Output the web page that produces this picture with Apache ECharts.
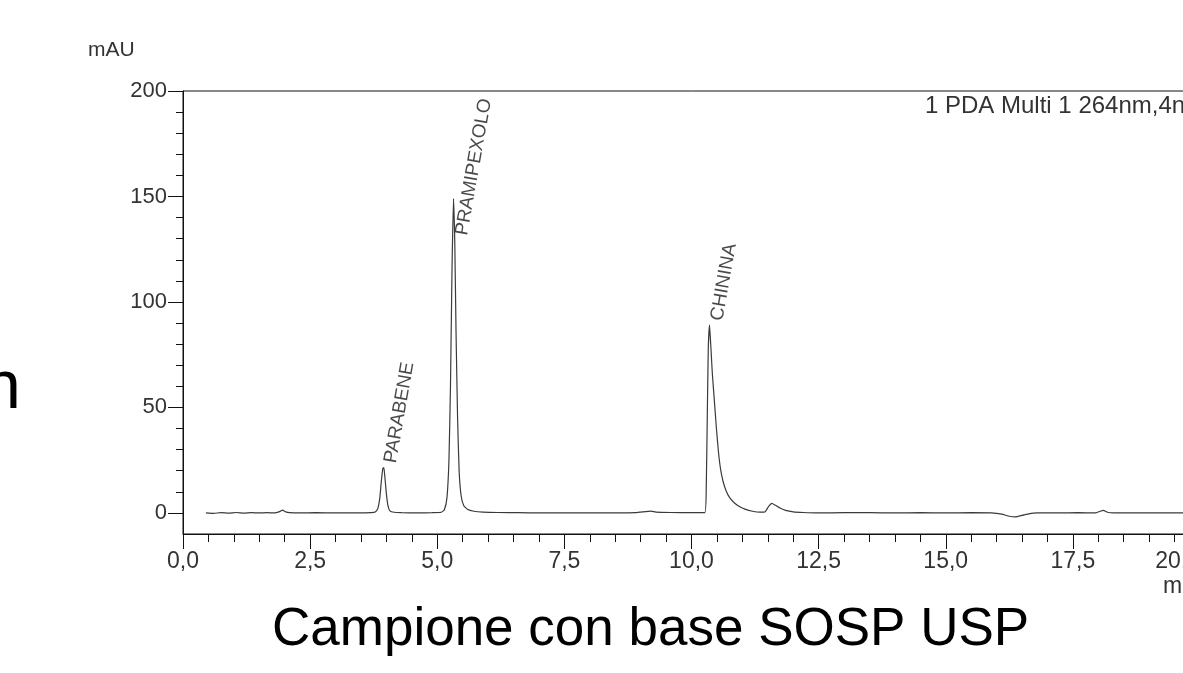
<!DOCTYPE html>
<html>
<head>
<meta charset="utf-8">
<title>Cromatogramma</title>
<script src="https://cdn.jsdelivr.net/npm/echarts@6/dist/echarts.min.js"></script>
<style>
  html, body { margin: 0; padding: 0; background: #fff; overflow: hidden; }
  /* il grafico originale è tagliato a destra: il div è più largo della finestra */
  #chart { width: 1217px; height: 673px; }
</style>
</head>
<body>
<div id="chart"></div>
<script>
// tempo di ritenzione (min) e segnale (mAU)
var retentionTimes = [0.45, 0.6, 0.75, 0.9, 1.05, 1.2, 1.35, 1.5, 1.65, 1.8, 1.9, 1.96, 2.02, 2.1, 2.3, 2.6, 3.0, 3.4, 3.7,
  3.78, 3.83, 3.87, 3.90, 3.93, 3.95, 3.97, 4.00, 4.03, 4.07, 4.15, 4.3, 4.6, 4.9,
  5.08, 5.14, 5.19, 5.23, 5.26, 5.29, 5.32, 5.345, 5.37, 5.40, 5.43, 5.47, 5.52, 5.6, 5.72, 5.9, 6.2, 6.6,
  7.0, 7.5, 8.0, 8.5, 8.9, 9.1, 9.2, 9.3, 9.6, 10.0,
  10.26, 10.29, 10.31, 10.33, 10.355, 10.38, 10.41, 10.45, 10.49, 10.53, 10.57, 10.62, 10.68, 10.75, 10.85, 10.95,
  11.05, 11.2, 11.35, 11.45, 11.52, 11.58, 11.65, 11.75, 11.85, 12.0, 12.2, 12.5,
  13.0, 13.5, 14.0, 14.5, 15.0, 15.5, 15.9, 16.1, 16.25, 16.37, 16.5, 16.65, 16.8,
  17.2, 17.6, 17.95, 18.05, 18.1, 18.18, 18.3, 19.0, 19.5, 20.0]
var absorbance = [0.0, -0.2, 0.1, -0.1, 0.2, -0.1, 0.1, 0.0, 0.1, 0.0, 0.6, 1.3, 0.5, 0.1, 0.0, 0.1, 0.0, 0.0, 0.1,
  0.4, 2, 7, 15, 21, 21.5, 17, 9, 3.5, 1, 0.3, 0.1, 0.0, 0.1,
  0.3, 1.5, 7, 25, 60, 115, 149, 128, 85, 45, 20, 8, 3.5, 1.6, 0.8, 0.4, 0.2, 0.1,
  0.0, 0.0, 0.0, 0.0, 0.1, 0.6, 0.8, 0.4, 0.2, 0.1,
  0.1, 12, 45, 78, 89, 79, 66, 53, 40, 29, 21, 15, 10.5, 7.2, 4.6, 2.9,
  1.8, 0.8, 0.4, 0.6, 3.2, 4.5, 3.6, 2.2, 1.2, 0.5, 0.2, 0.0,
  0.1, 0.1, 0.0, 0.1, 0.0, 0.1, 0.0, -0.6, -1.6, -1.9, -1.2, -0.3, 0.0,
  0.0, 0.1, 0.0, 0.9, 1.2, 0.3, 0.0, 0.0, 0.0, 0.0]

// etichette dei picchi
var peakNames = ['PARABENE', 'PRAMIPEXOLO', 'CHININA']
var peakTimes = [3.90, 5.30, 10.32]
var peakLabelLevels = [24.5, 132.5, 92]

// tacche asse y
var yMajorTicks = [0, 50, 100, 150, 200]
var yMinorTicks = [0, 10, 20, 30, 40, 50, 60, 70, 80, 90, 100, 110, 120, 130, 140, 150, 160, 170, 180, 190, 200]

var chart = echarts.init(document.getElementById('chart'))

var lineData = retentionTimes.map(function (t, i) { return [t, absorbance[i]] })
var labelData = peakNames.map(function (n, i) { return { name: n, value: [peakTimes[i], peakLabelLevels[i]] } })

var textColor = '#333'
var font = 'Liberation Sans, Arial, sans-serif'

var option = {
  animation: false,
  backgroundColor: '#fff',
  grid: {
    left: 183,
    top: 91,
    right: 17,
    bottom: 139,
    show: true,
    borderColor: '#111',
    borderWidth: 1
  },
  xAxis: {
    type: 'value',
    min: 0,
    max: 20,
    interval: 2.5,
    axisLine: { onZero: false, lineStyle: { color: '#111', width: 1 } },
    axisTick: { length: 15, lineStyle: { color: '#111' } },
    minorTick: { show: true, splitNumber: 5, length: 8, lineStyle: { color: '#111' } },
    splitLine: { show: false },
    axisLabel: {
      margin: 16,
      color: textColor,
      fontSize: 23,
      fontFamily: font,
      alignMaxLabel: 'right',
      formatter: function (v) { return v.toFixed(1).replace('.', ',') }
    }
  },
  yAxis: [
    {
      type: 'value',
      min: -10,
      max: 200,
      axisLine: { show: true, lineStyle: { color: '#111', width: 1 } },
      axisTick: { show: true, length: 7, customValues: yMinorTicks, lineStyle: { color: '#111' } },
      axisLabel: { show: false },
      splitLine: { show: false }
    },
    {
      type: 'value',
      min: -10,
      max: 200,
      position: 'left',
      axisLine: { show: false },
      axisTick: { show: true, length: 15, customValues: yMajorTicks, lineStyle: { color: '#111' } },
      axisLabel: {
        margin: 16,
        color: textColor,
        fontSize: 22,
        fontFamily: font,
        customValues: yMajorTicks
      },
      splitLine: { show: false }
    }
  ],
  series: [
    {
      type: 'line',
      data: lineData,
      showSymbol: false,
      smooth: 0.15,
      lineStyle: { color: '#3a3a3a', width: 1.2 },
      silent: true
    },
    {
      type: 'scatter',
      data: labelData,
      symbolSize: 0,
      silent: true,
      label: {
        show: true,
        formatter: '{b}',
        position: 'inside',
        rotate: 80,
        align: 'left',
        verticalAlign: 'top',
        color: '#1a1a1a',
        fontSize: 19,
        fontFamily: font
      }
    }
  ],
  graphic: [
    { type: 'text', left: 88, top: 40, style: { text: 'mAU', fill: textColor, font: '21px Liberation Sans, Arial' } },
    { type: 'text', left: 1163, top: 575, style: { text: 'min', fill: textColor, font: '23px Liberation Sans, Arial' } },
    { type: 'text', left: 925, top: 94, style: { text: '1 PDA Multi 1 264nm,4nm', fill: textColor, font: '24px Liberation Sans, Arial' } },
    { type: 'text', left: 272, top: 604, style: { text: 'Campione con base SOSP USP', fill: '#000', font: '53px Liberation Sans, Arial' } },
    { type: 'text', left: -17, top: 355, style: { text: 'n', fill: '#000', font: '68px Liberation Sans, Arial' } }
  ]
}

chart.setOption(option)
</script>
</body>
</html>
